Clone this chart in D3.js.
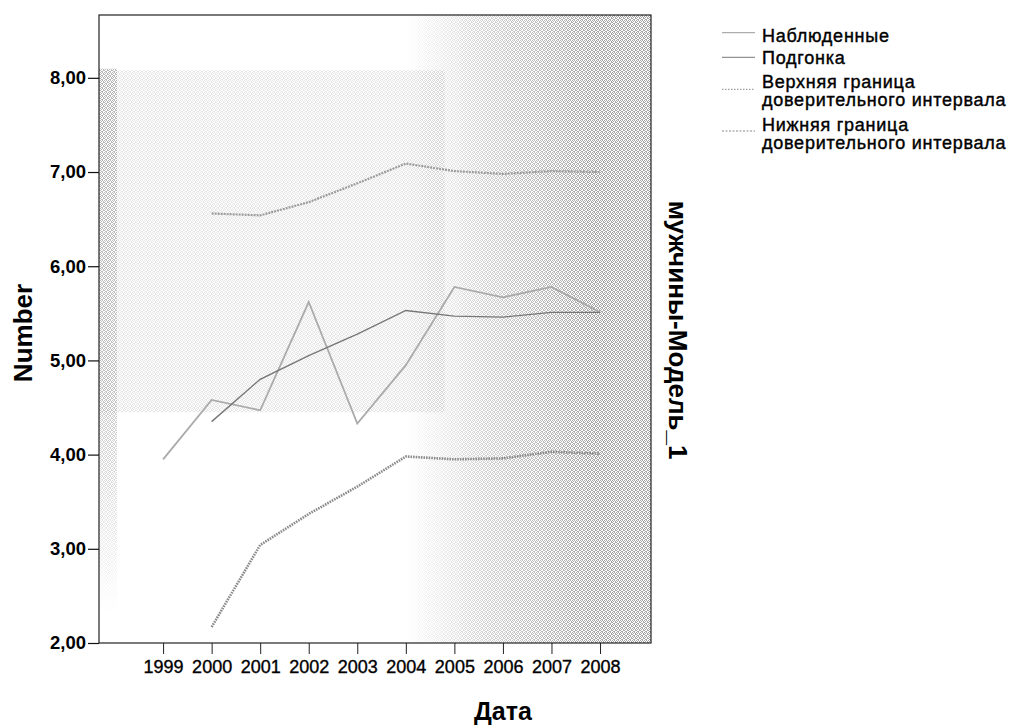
<!DOCTYPE html>
<html>
<head>
<meta charset="utf-8">
<script src="https://cdn.jsdelivr.net/npm/d3@7"></script>
<style>
  body { margin: 0; background: #fff; }
  svg { display: block; }
  text { font-family: Arial, "Liberation Sans", sans-serif; }
</style>
</head>
<body>
<div class="chart"></div>
<script>
// data
const years = [1999, 2000, 2001, 2002, 2003, 2004, 2005, 2006, 2007, 2008];
const observed = [3.95, 4.58, 4.47, 5.62, 4.33, 4.95, 5.78, 5.67, 5.78, 5.51];
const fitYears = [2000, 2001, 2002, 2003, 2004, 2005, 2006, 2007, 2008];
const fitted = [4.35, 4.80, 5.05, 5.28, 5.53, 5.47, 5.46, 5.51, 5.51];
const upperCI = [6.56, 6.54, 6.68, 6.88, 7.09, 7.01, 6.98, 7.01, 7.00];
const lowerCI = [2.17, 3.04, 3.37, 3.66, 3.98, 3.95, 3.96, 4.03, 4.01];
const yTicks = [2, 3, 4, 5, 6, 7, 8];
const legendLabels = [
    ["Наблюденные"],
    ["Подгонка"],
    ["Верхняя граница", "доверительного интервала"],
    ["Нижняя граница", "доверительного интервала"]
];

const W = 1015, H = 728;
const plot = {left: 99, right: 651, top: 15, bottom: 643};

const svg = d3.select(".chart").append("svg")
    .attr("width", W)
    .attr("height", H);

const x = d3.scaleLinear()
    .domain([1997.68, 2009.05])
    .range([plot.left, plot.right]);

const y = d3.scaleLinear()
    .domain([2, 8.667])
    .range([plot.bottom, plot.top]);

// stipple texture of the scanned background (irregular dots in a 4x4 tile)
const defs = svg.append("defs");
const pat = defs.append("pattern")
    .attr("id", "stip")
    .attr("width", 4).attr("height", 4)
    .attr("patternUnits", "userSpaceOnUse");
[[0,0],[2,0],[1,1],[3,1],[0,2],[3,2],[2,3],[1,3]].forEach(p => {
    pat.append("rect")
        .attr("x", p[0]).attr("y", p[1])
        .attr("width", 1).attr("height", 1)
        .attr("fill", "#a6a6a6");
});

// horizontal fade for the right-hand dark area
const grad = defs.append("linearGradient")
    .attr("id", "fadeRight")
    .attr("gradientUnits", "userSpaceOnUse")
    .attr("x1", x(2004.0)).attr("x2", x(2007.9))
    .attr("y1", 0).attr("y2", 0);
grad.append("stop").attr("offset", 0).attr("stop-color", "#000");
grad.append("stop").attr("offset", 0.45).attr("stop-color", "#8a8a8a");
grad.append("stop").attr("offset", 1).attr("stop-color", "#fff");

defs.append("mask").attr("id", "maskRight")
    .append("rect")
    .attr("x", plot.left).attr("y", plot.top)
    .attr("width", plot.right - plot.left).attr("height", plot.bottom - plot.top)
    .attr("fill", "url(#fadeRight)");

// soft vertical fade for the left strip
const gradV = defs.append("linearGradient")
    .attr("id", "fadeDown")
    .attr("gradientUnits", "userSpaceOnUse")
    .attr("x1", 0).attr("x2", 0)
    .attr("y1", y(8.1)).attr("y2", y(2.3));
gradV.append("stop").attr("offset", 0).attr("stop-color", "#fff");
gradV.append("stop").attr("offset", 0.65).attr("stop-color", "#bbb");
gradV.append("stop").attr("offset", 1).attr("stop-color", "#000");

defs.append("mask").attr("id", "maskDown")
    .append("rect")
    .attr("x", plot.left).attr("y", y(8.1))
    .attr("width", 18).attr("height", y(2.3) - y(8.1))
    .attr("fill", "url(#fadeDown)");

const bg = svg.append("g");
bg.append("rect")
    .attr("x", plot.left).attr("y", y(8.08))
    .attr("width", x(2004.8) - plot.left).attr("height", y(4.45) - y(8.08))
    .attr("fill", "url(#stip)")
    .attr("opacity", 0.28);
bg.append("rect")
    .attr("x", plot.left).attr("y", y(8.1))
    .attr("width", 18).attr("height", y(2.3) - y(8.1))
    .attr("fill", "url(#stip)")
    .attr("opacity", 0.75)
    .attr("mask", "url(#maskDown)");
bg.append("rect")
    .attr("x", plot.left).attr("y", plot.top)
    .attr("width", plot.right - plot.left).attr("height", plot.bottom - plot.top)
    .attr("fill", "url(#stip)")
    .attr("mask", "url(#maskRight)");

// frame
svg.append("rect")
    .attr("x", plot.left).attr("y", plot.top)
    .attr("width", plot.right - plot.left).attr("height", plot.bottom - plot.top)
    .attr("fill", "none")
    .attr("stroke", "#222")
    .attr("stroke-width", 1.2);

// axes
const yAxis = svg.append("g")
    .attr("transform", "translate(" + plot.left + ",0)")
    .call(d3.axisLeft(y)
        .tickValues(yTicks)
        .tickSize(11)
        .tickPadding(2)
        .tickFormat(d => d3.format(".2f")(d).replace(".", ",")));
yAxis.select(".domain").remove();
yAxis.selectAll("line").attr("stroke", "#111").attr("stroke-width", 1.2);
yAxis.selectAll("text")
    .attr("fill", "#000")
    .style("font-size", "18.5px")
    .style("font-weight", "bold")
    .style("font-family", "Arial, 'Liberation Sans', sans-serif");

const xAxis = svg.append("g")
    .attr("transform", "translate(0," + plot.bottom + ")")
    .call(d3.axisBottom(x)
        .tickValues(years)
        .tickSize(11)
        .tickPadding(6)
        .tickFormat(d3.format("d")));
xAxis.select(".domain").remove();
xAxis.selectAll("line").attr("stroke", "#222");
xAxis.selectAll("text")
    .attr("fill", "#000")
    .attr("stroke", "#000")
    .attr("stroke-width", 0.35)
    .style("font-size", "18px")
    .style("font-family", "Arial, 'Liberation Sans', sans-serif");

// series
const series = [
    {xs: years, vals: observed, color: "#aaaaaa", width: 1.8, dash: null},
    {xs: fitYears, vals: fitted, color: "#777777", width: 1.4, dash: null},
    {xs: fitYears, vals: upperCI, color: "#9c9c9c", width: 2.2, dash: "2,1"},
    {xs: fitYears, vals: lowerCI, color: "#8a8a8a", width: 2.6, dash: "1.6,1"}
];

const line = d3.line()
    .x(d => x(d[0]))
    .y(d => y(d[1]));

svg.append("g")
    .selectAll("path")
    .data(series)
    .join("path")
    .attr("d", s => line(s.xs.map((yr, i) => [yr, s.vals[i]])))
    .attr("fill", "none")
    .attr("stroke", s => s.color)
    .attr("stroke-width", s => s.width)
    .attr("stroke-dasharray", s => s.dash);

// axis titles
svg.append("text")
    .attr("transform", "translate(31.5,333) rotate(-90)")
    .attr("text-anchor", "middle")
    .style("font-size", "26px")
    .style("font-weight", "bold")
    .text("Number");

svg.append("text")
    .attr("x", 503).attr("y", 720)
    .attr("text-anchor", "middle")
    .style("font-size", "25px")
    .style("font-weight", "bold")
    .text("Дата");

svg.append("text")
    .attr("transform", "translate(668.5,330) rotate(90)")
    .attr("text-anchor", "middle")
    .style("font-size", "26px")
    .style("font-weight", "bold")
    .text("мужчины-Модель_1");

// legend
const legendLineY = [32.7, 57.3, 89.3, 131];
const legendTextY = [41.5, 63.5, 87.5, 130.5];
const legendDash = [null, null, "1.5,1.5", "2,1.5"];
const legendColor = ["#999", "#777", "#888", "#888"];

const legend = svg.append("g");
legendLabels.forEach((lines, i) => {
    legend.append("line")
        .attr("x1", 722).attr("x2", 755)
        .attr("y1", legendLineY[i]).attr("y2", legendLineY[i])
        .attr("stroke", legendColor[i])
        .attr("stroke-width", 1)
        .attr("stroke-dasharray", legendDash[i]);
    const t = legend.append("text")
        .attr("x", 762)
        .attr("y", legendTextY[i])
        .attr("stroke", "#000")
        .attr("stroke-width", 0.4)
        .style("font-size", "18px")
        .style("letter-spacing", "0.75px");
    lines.forEach((s, j) => {
        t.append("tspan")
            .attr("x", 762)
            .attr("dy", j === 0 ? 0 : 18.3)
            .text(s);
    });
});
</script>
</body>
</html>
